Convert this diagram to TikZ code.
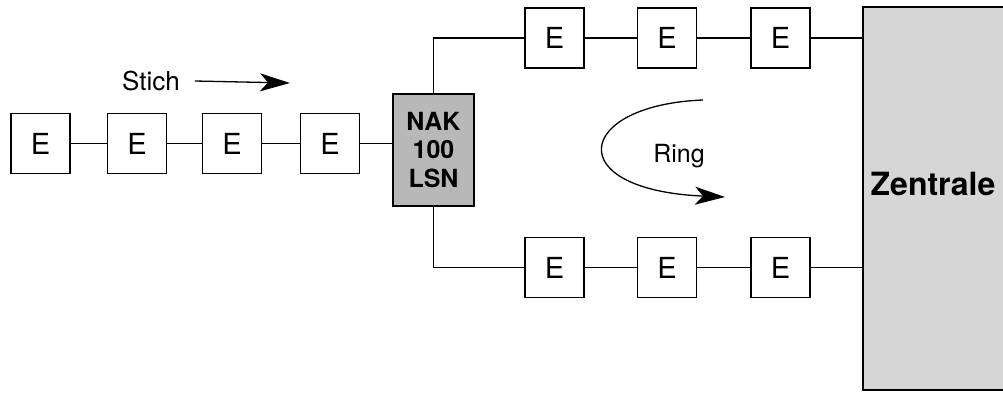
\documentclass[tikz,border=0pt]{standalone}
\usepackage{fontspec}
\setmainfont{TeX Gyre Heros}
\usetikzlibrary{positioning, arrows.meta}
\definecolor{StippleDark}{gray}{0.72}
\definecolor{StippleLight}{gray}{0.84}

\begin{document}
\begin{tikzpicture}[x=0.5pt, y=-0.5pt,
    elem/.style={draw, line width=0.75pt, minimum width=29.5pt, minimum height=30pt, inner sep=0pt, font=\fontsize{14.5}{16}\selectfont},
    nakbox/.style={draw, line width=0.75pt, fill=StippleDark, minimum width=40.5pt, minimum height=56pt, inner sep=0pt, align=center, font=\fontsize{12.5}{14.2}\selectfont\bfseries},
    zenbox/.style={fill=StippleLight, minimum width=70pt, minimum height=191.5pt, inner sep=0pt, text height=12pt, text depth=15.5pt, font=\fontsize{16}{18}\selectfont\bfseries},
    link/.style={line width=0.65pt},
    flow/.style={line width=0.65pt, -{Stealth[length=15pt, width=9pt, inset=4pt]}}]
    \useasboundingbox (0,0) rectangle (1003,392);

    % Stich
    \node (e1) [elem] at (40.5,143.5) {E};
    \node (e2) [elem] at (137,143.5) {E};
    \node (e3) [elem] at (232,143.5) {E};
    \node (e4) [elem] at (330,143.5) {E};
    \node (nak) [nakbox] at (433.5,150) {NAK\\100\\LSN};

    % Ring
    \node (t1) [elem] at (554.5,38) {E};
    \node (t2) [elem] at (667,38) {E};
    \node (t3) [elem] at (780.5,38) {E};
    \node (b1) [elem] at (554.5,267.5) {E};
    \node (b2) [elem] at (667,267.5) {E};
    \node (b3) [elem] at (780.5,267.5) {E};

    % Zentrale
    \node (zen) [zenbox] at (933,198.5) {Zentrale};
    \draw[line width=1pt] (zen.north east) -- (zen.north west) -- (zen.south west) -- (zen.south east);

    % Leitungen
    \draw[link] (e1) -- (e2);
    \draw[link] (e2) -- (e3);
    \draw[link] (e3) -- (e4);
    \draw[link] (e4) -- (e4 -| nak.west);
    \draw[link] (nak.north) |- (t1);
    \draw[link] (t1) -- (t2);
    \draw[link] (t2) -- (t3);
    \draw[link] (t3) -- (t3 -| zen.west);
    \draw[link] (nak.south) |- (b1);
    \draw[link] (b1) -- (b2);
    \draw[link] (b2) -- (b3);
    \draw[link] (b3) -- (b3 -| zen.west);

    % Labels
    \node (stich) at (151,81) {\fontsize{13}{15}\selectfont Stich};
    \coordinate (stichtip) at (290,83);
    \draw[flow] ([xshift=4pt]stich.east) -- (stichtip);

    \node (ring) at (679,156) {\fontsize{12.5}{15}\selectfont Ring};
    \coordinate (ringtop) at (703,100);
    \coordinate (ringtip) at (725,197);
    \draw[flow] (ringtop) .. controls (575,105) and (560,190) .. (ringtip);
\end{tikzpicture}
\end{document}
